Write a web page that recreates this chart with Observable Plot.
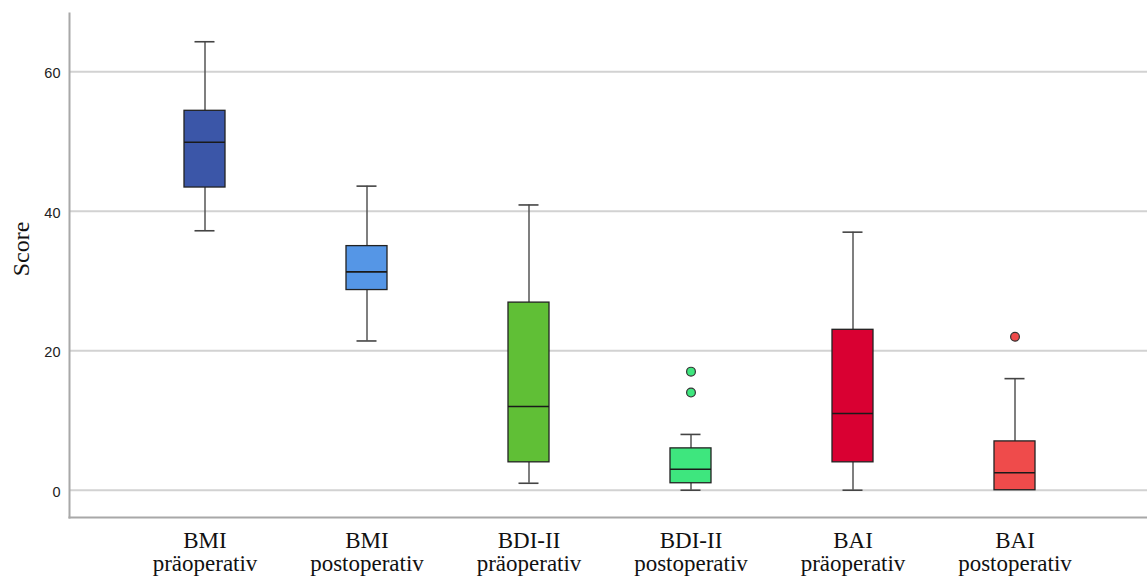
<!DOCTYPE html>
<html>
<head>
<meta charset="utf-8">
<script src="https://cdn.jsdelivr.net/npm/d3@7"></script>
<script src="https://cdn.jsdelivr.net/npm/@observablehq/plot@0.6"></script>
<style>
  html, body { margin: 0; padding: 0; background: #fff; }
  #wrap { position: relative; width: 1147px; height: 578px; overflow: hidden; }
  #ylabel {
    position: absolute; left: 20.5px; top: 248.5px;
    transform: translate(-50%, -50%) rotate(-90deg);
    font-family: "Liberation Serif", "Times New Roman", serif;
    font-size: 24px; line-height: 1; color: #111; white-space: nowrap;
  }
</style>
</head>
<body>
<div id="wrap"><div id="ylabel">Score</div></div>
<script>
// ---- data ----
const groups = ["BMI", "BMI", "BDI-II", "BDI-II", "BAI", "BAI"];
const phases = ["präoperativ", "postoperativ", "präoperativ", "postoperativ", "präoperativ", "postoperativ"];
const mins    = [37.2, 21.4, 1, 0, 0, 0];
const q1s     = [43.4, 28.7, 4, 1, 4, 0];
const medians = [49.9, 31.3, 12, 3, 11, 2.5];
const q3s     = [54.4, 35.0, 26.9, 6, 23, 7];
const maxs    = [64.3, 43.6, 40.9, 8, 37, 16];
const outlierIdx    = [3, 3, 5];
const outlierValues = [17, 14, 22];
const yTicks = [0, 20, 40, 60];
const yDomain = [-3.91, 68.35];
const palette = ["#3b56a8", "#5596e6", "#60bf36", "#3ee67e", "#d90032", "#ef4b4b"];

// ---- build tables ----
const cats = groups.map((g, i) => g + "\n" + phases[i]);
const stats = cats.map((c, i) => ({cat: c, min: mins[i], q1: q1s[i], median: medians[i], q3: q3s[i], max: maxs[i]}));
const lowW = stats.filter(d => d.min < d.q1);
const outliers = outlierIdx.map((k, i) => ({cat: cats[k], value: outlierValues[i]}));

const chart = Plot.plot({
  width: 1147,
  height: 578,
  marginLeft: 69,
  marginRight: 0,
  marginTop: 13,
  marginBottom: 61,
  style: {background: "transparent", overflow: "visible"},
  x: {domain: cats, paddingInner: 0.7475, paddingOuter: 0.69, align: 0.507, label: null},
  y: {domain: yDomain, label: null},
  color: {domain: cats, range: palette},
  marks: [
    Plot.gridY(yTicks, {stroke: "#d2d2d2", strokeOpacity: 1, strokeWidth: 1.8}),
    Plot.frame({anchor: "left", stroke: "#a8a8a8", strokeWidth: 2}),
    Plot.frame({anchor: "bottom", stroke: "#a8a8a8", strokeWidth: 2}),
    Plot.axisY(yTicks, {tickSize: 0, tickPadding: 9, fontSize: 14.5, fontFamily: "Liberation Sans, Arial, sans-serif", fill: "#222", dy: 2, label: null}),
    Plot.axisX({tickSize: 0, tickPadding: 14, fontSize: 23, lineHeight: 1.0, fontFamily: "Liberation Serif, Times New Roman, serif", fill: "#111", label: null}),
    // whiskers
    Plot.ruleX(stats, {x: "cat", y1: "q3", y2: "max", stroke: "#555", strokeWidth: 1.5}),
    Plot.ruleX(lowW, {x: "cat", y1: "min", y2: "q1", stroke: "#555", strokeWidth: 1.5}),
    Plot.tickY(stats, {x: "cat", y: "max", stroke: "#444", strokeWidth: 1.6, insetLeft: 10.5, insetRight: 10.5}),
    Plot.tickY(lowW, {x: "cat", y: "min", stroke: "#444", strokeWidth: 1.6, insetLeft: 10.5, insetRight: 10.5}),
    // boxes
    Plot.barY(stats, {x: "cat", y1: "q1", y2: "q3", fill: "cat", stroke: "#222", strokeWidth: 1.3}),
    Plot.tickY(stats, {x: "cat", y: "median", stroke: "#1a1a1a", strokeWidth: 1.6}),
    // outliers
    Plot.dot(outliers, {x: "cat", y: "value", fill: "cat", stroke: "#333", strokeWidth: 1.2, r: 4.4})
  ]
});
document.getElementById("wrap").appendChild(chart);
</script>
</body>
</html>
